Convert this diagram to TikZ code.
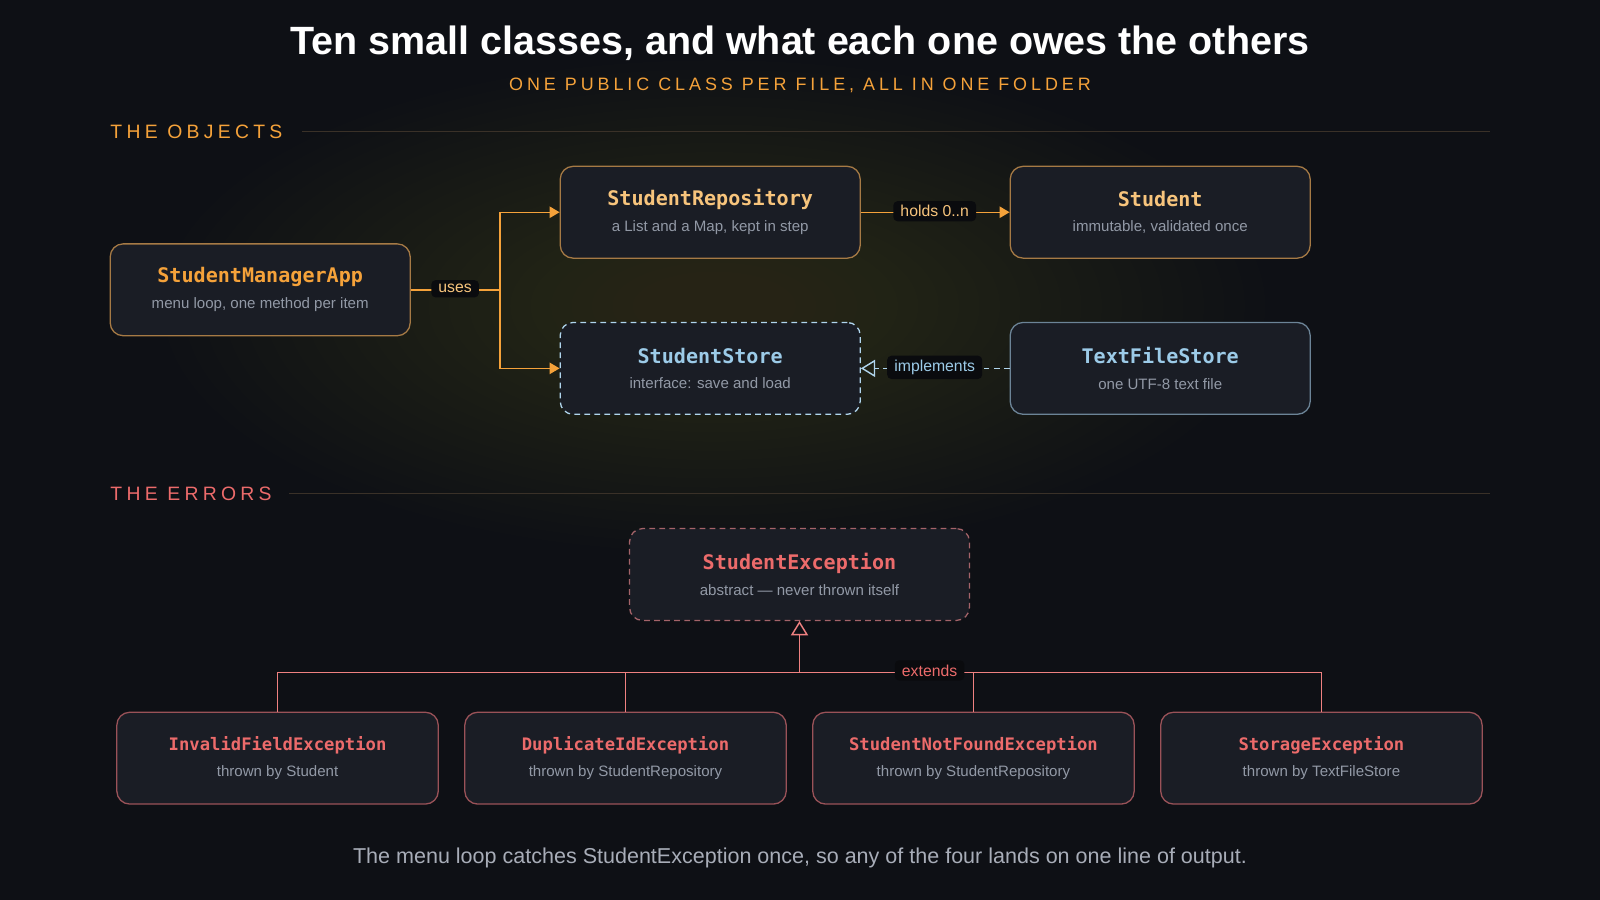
\documentclass[tikz,border=0pt]{standalone}
\usepackage{fontspec}
\setmainfont{Liberation Sans}
\setmonofont{DejaVu Sans Mono}
\newfontfamily\spaced[LetterSpace=22]{Liberation Sans}
\usetikzlibrary{arrows.meta, positioning, calc}

\definecolor{bgdark}{HTML}{0E1015}
\definecolor{boxfill}{HTML}{1A1D25}
\definecolor{orangeA}{HTML}{F5A23A}
\definecolor{orangeL}{HTML}{F7C47C}
\definecolor{orangeB}{HTML}{A67A45}
\definecolor{blueT}{HTML}{9CCBE8}
\definecolor{blueB}{HTML}{6C8497}
\definecolor{redT}{HTML}{EC6B6B}
\definecolor{redB}{HTML}{9A5258}
\definecolor{greyT}{HTML}{9299A6}
\definecolor{rule}{HTML}{3A3128}
\definecolor{tagfill}{HTML}{0A0B0E}

\begin{document}
\begin{tikzpicture}[
    x=0.025cm, y=-0.025cm,
    cls/.style={rectangle, rounded corners=9pt, minimum width=294*0.025cm, minimum height=90*0.025cm,
                fill=boxfill, line width=0.9pt, align=center, inner sep=0pt},
    objbox/.style={cls, draw=orangeB},
    ifbox/.style={cls, draw=blueT!80, dashed, dash pattern=on 4pt off 3pt},
    implbox/.style={cls, draw=blueB},
    errbase/.style={cls, draw=redB!90, dashed, dash pattern=on 4pt off 3pt, minimum width=333*0.025cm},
    errbox/.style={cls, draw=redB, minimum width=315*0.025cm},
    tag/.style={rectangle, rounded corners=3pt, fill=tagfill, font=\fontsize{11}{13}\selectfont,
                inner xsep=5pt, inner ysep=3pt},
    link/.style={draw=orangeA, line width=1pt},
    arrow/.style={link, -{Triangle[length=7pt, width=8pt]}},
    hollow/.style={-{Triangle[open, length=10pt, width=12pt]}, line width=1pt}
]
    % background and glow
    \fill[bgdark] (0,0) rectangle (1568,882);
    \foreach \s in {1,...,24}
        \fill[orangeA, opacity=0.008] (700,300) ellipse ({560-20*\s} and {250-9*\s});
    \useasboundingbox (0,0) rectangle (1568,882);

    % Headings
    \node (title) at (784,42) {\color{white}\bfseries\fontsize{27.5}{32}\selectfont Ten small classes, and what each one owes the others};
    \node (subtitle) at (784,84) {\color{orangeA}\spaced\fontsize{12.5}{14}\selectfont ONE PUBLIC CLASS PER FILE, ALL IN ONE FOLDER};
    \node[anchor=west, inner sep=0pt] (objhead) at (108,129) {\color{orangeA}\spaced\fontsize{13.5}{15}\selectfont THE OBJECTS};
    \draw[rule, line width=0.8pt] (296,129) -- (1460,129);
    \node[anchor=west, inner sep=0pt] (errhead) at (108,484) {\color{redT}\spaced\fontsize{13.5}{15}\selectfont THE ERRORS};
    \draw[rule, line width=0.8pt] (283,484) -- (1460,484);

    % Object classes
    \node (app) [objbox] at (255,284) {{\color{orangeA}\ttfamily\bfseries\fontsize{14}{16}\selectfont StudentManagerApp}\\[6pt]{\color{greyT}\fontsize{10.5}{12}\selectfont menu loop, one method per item}};
    \node (repo) [objbox] at (696,208) {{\color{orangeL}\ttfamily\bfseries\fontsize{14}{16}\selectfont StudentRepository}\\[6pt]{\color{greyT}\fontsize{10.5}{12}\selectfont a List and a Map, kept in step}};
    \node (student) [objbox] at (1137,208) {{\color{orangeL}\ttfamily\bfseries\fontsize{14}{16}\selectfont Student}\\[6pt]{\color{greyT}\fontsize{10.5}{12}\selectfont immutable, validated once}};
    \node (store) [ifbox] at (696,361) {{\color{blueT}\ttfamily\bfseries\fontsize{14}{16}\selectfont StudentStore}\\[6pt]{\color{greyT}\fontsize{10.5}{12}\selectfont interface: save and load}};
    \node (filestore) [implbox] at (1137,361) {{\color{blueT}\ttfamily\bfseries\fontsize{14}{16}\selectfont TextFileStore}\\[6pt]{\color{greyT}\fontsize{10.5}{12}\selectfont one UTF-8 text file}};

    % Object connections
    \coordinate (fork) at (490,284);
    \draw[link] (app.east) -- (fork);
    \draw[arrow] (fork) |- (repo.west);
    \draw[arrow] (fork) |- (store.west);
    \node (uses) [tag, text=orangeL] at (446,283) {uses};
    \draw[arrow] (repo.east) -- (student.west);
    \node (holds) [tag, text=orangeL] at (916,207) {holds 0..n};
    \draw[hollow, draw=blueT!80, dashed, dash pattern=on 4pt off 3pt] (filestore.west) -- (store.east);
    \node (implements) [tag, text=blueT] at (916,360) {implements};

    % Error classes
    \node (base) [errbase] at (783.5,563) {{\color{redT}\ttfamily\bfseries\fontsize{14}{16}\selectfont StudentException}\\[6pt]{\color{greyT}\fontsize{10.5}{12}\selectfont abstract --- never thrown itself}};
    \node (invalid) [errbox] at (272,743) {{\color{redT}\ttfamily\bfseries\fontsize{12}{14}\selectfont InvalidFieldException}\\[6pt]{\color{greyT}\fontsize{10.5}{12}\selectfont thrown by Student}};
    \node (dupid) [errbox] at (613,743) {{\color{redT}\ttfamily\bfseries\fontsize{12}{14}\selectfont DuplicateIdException}\\[6pt]{\color{greyT}\fontsize{10.5}{12}\selectfont thrown by StudentRepository}};
    \node (notfound) [errbox] at (954,743) {{\color{redT}\ttfamily\bfseries\fontsize{12}{14}\selectfont StudentNotFoundException}\\[6pt]{\color{greyT}\fontsize{10.5}{12}\selectfont thrown by StudentRepository}};
    \node (storage) [errbox] at (1295,743) {{\color{redT}\ttfamily\bfseries\fontsize{12}{14}\selectfont StorageException}\\[6pt]{\color{greyT}\fontsize{10.5}{12}\selectfont thrown by TextFileStore}};

    % Inheritance
    \coordinate (bus) at (783.5,659);
    \draw[redT!85, line width=1pt] (invalid.north) |- (storage.north |- bus) -- (storage.north);
    \foreach \child in {dupid, notfound}
        \draw[redT!85, line width=1pt] (\child.north) -- (\child.north |- bus);
    \draw[hollow, draw=redT!85] (bus) -- (base.south);
    \node (extends) [tag, text=redT] at (911,657) {extends};

    % Footer
    \node (footer) at (784,841) {\color{greyT!80!white}\fontsize{15}{18}\selectfont The menu loop catches StudentException once, so any of the four lands on one line of output.};
\end{tikzpicture}
\end{document}
